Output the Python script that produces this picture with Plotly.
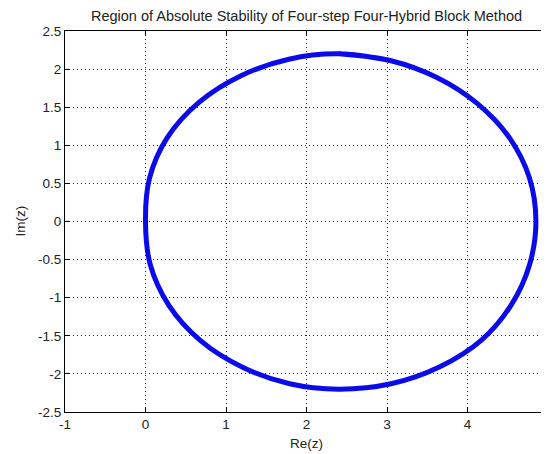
import plotly.graph_objects as go

# Boundary of the stability region, traced clockwise from the top
re_z = [2.40, 3.05, 3.62, 4.12, 4.52, 4.77, 4.85, 4.77, 4.54, 4.17, 3.65, 3.05, 2.40,
        1.79, 1.20, 0.68, 0.29, 0.06, 0.00, 0.05, 0.27, 0.66, 1.18, 1.78, 2.40, 3.05]
im_z = [2.20, 2.11, 1.89, 1.55, 1.10, 0.57, 0.00, -0.57, -1.10, -1.56, -1.91, -2.13, -2.20,
        -2.13, -1.91, -1.56, -1.10, -0.57, 0.00, 0.57, 1.10, 1.56, 1.91, 2.13, 2.20, 2.11]

x_ticks = [-1, 0, 1, 2, 3, 4, 5]
y_ticks = [-2.5, -2, -1.5, -1, -0.5, 0, 0.5, 1, 1.5, 2, 2.5]
y_labels = ["-2.5", "-2", "-1.5", "-1", "-0.5", "0", "0.5", "1", "1.5", "2", "2.5"]

fig = go.Figure()
fig.add_trace(go.Scatter(
    x=re_z, y=im_z, mode="lines",
    line=dict(color="rgb(10,10,235)", width=5, shape="spline", smoothing=1),
    showlegend=False, hoverinfo="skip",
))

FAM = "Liberation Sans, Arial, sans-serif"
font = dict(family=FAM, size=13.5, color="#222")
axis_common = dict(
    showline=True, linecolor="black", linewidth=1, mirror="ticks",
    ticks="inside", ticklen=5, tickcolor="black", tickwidth=1,
    showgrid=True, gridcolor="rgb(40,40,40)", gridwidth=1, griddash="1px,3px",
    zeroline=False, tickfont=font, automargin=False, ticklabeloverflow="allow",
)

# the page body has an 8px margin, so the figure is sized/placed to compensate
W, H = 541, 446
fig.update_layout(
    width=W, height=H,
    margin=dict(l=57, r=1, t=23, b=42),
    paper_bgcolor="white", plot_bgcolor="white",
    title=dict(text="Region of Absolute Stability of Four-step Four-Hybrid Block Method",
               x=0.5, xref="paper", y=1 - 7.5 / H, yref="container", yanchor="middle",
               font=dict(family=FAM, size=14.5, color="#222")),
    xaxis=dict(range=[-1, 5], tickvals=x_ticks, ticktext=[str(v) for v in x_ticks], **axis_common),
    yaxis=dict(range=[-2.5, 2.5], tickvals=y_ticks, ticktext=y_labels, **axis_common),
    annotations=[
        dict(text="Re(z)", xref="paper", yref="paper", x=0.5, y=0, yanchor="middle",
             yshift=-31, showarrow=False, font=font),
        dict(text="Im(z)", xref="paper", yref="paper", x=0, y=0.5, xanchor="center",
             xshift=-45, textangle=-90, showarrow=False, font=font),
    ],
)

fig.write_html("out.html")
